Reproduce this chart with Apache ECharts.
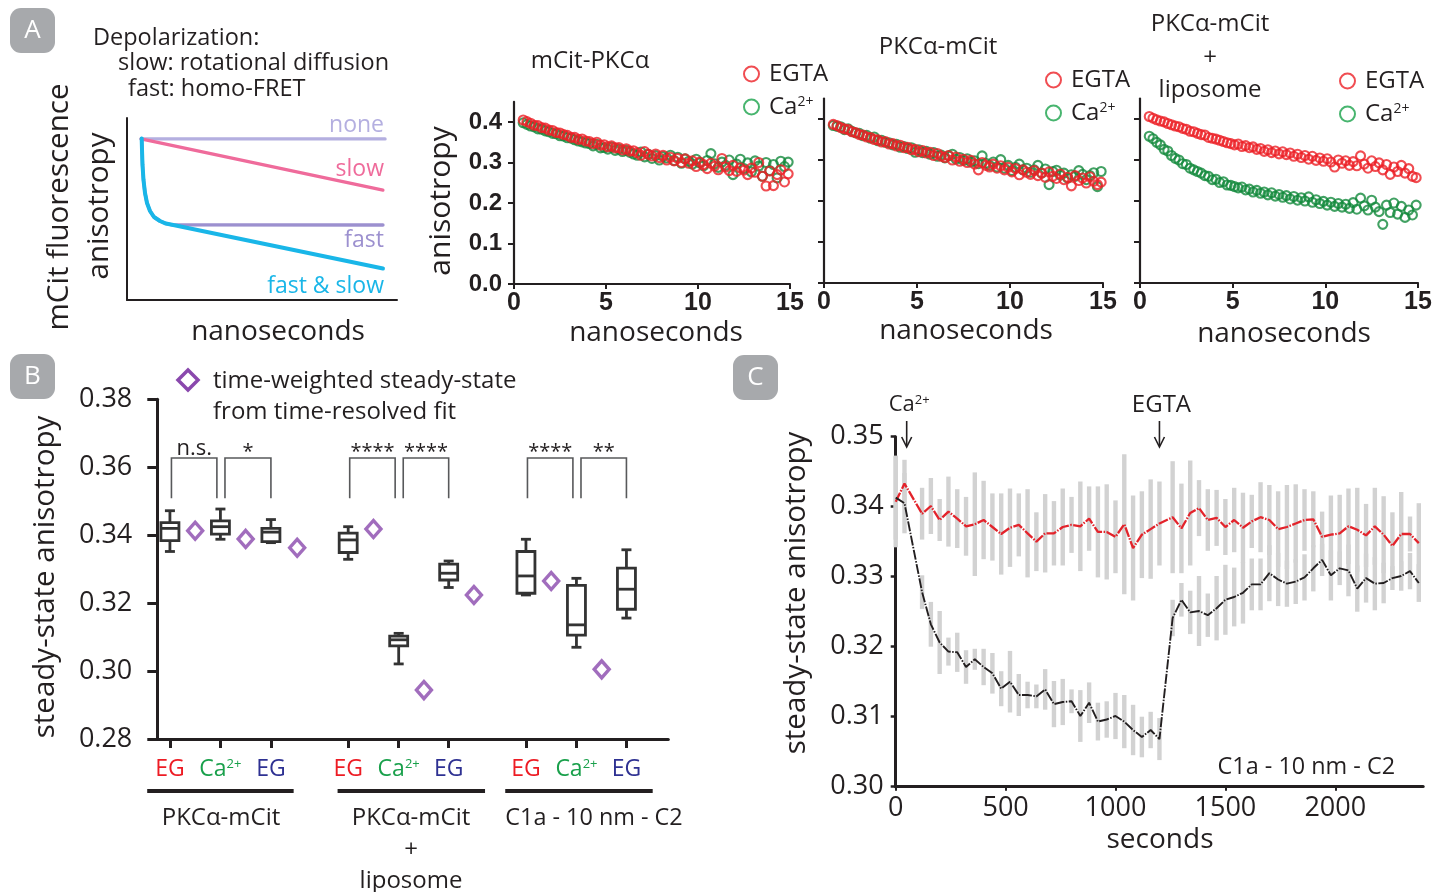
<!DOCTYPE html>
<html><head><meta charset="utf-8">
<script src="https://cdn.jsdelivr.net/npm/echarts@6/dist/echarts.min.js"></script>
<style>html,body{margin:0;padding:0;background:#fff}#c{width:1445px;height:892px}</style>
</head><body><div id="c"></div>
<script>
// ================= DATA =================
// Panel A schematic curves (arbitrary units, x: 0-100, y: 0-100)
const SCHEM_NONE = [[5.2, 88.5], [95.6, 88.5]];
const SCHEM_SLOW = [[5.2, 88.5], [94.8, 60.4]];
const SCHEM_FAST = [[5.44, 88.8], [5.56, 82.4], [5.74, 74.2], [6.11, 65.9], [6.67, 58.8], [7.41, 53.3], [8.52, 48.9], [10.0, 45.6], [12.2, 43.4], [14.4, 42.0], [16.7, 41.3], [94.8, 41.2]];
const SCHEM_FAST_SLOW = [[5.44, 88.8], [5.56, 82.4], [5.74, 74.2], [6.11, 65.9], [6.67, 58.8], [7.41, 53.3], [8.52, 48.9], [10.0, 45.6], [12.2, 43.4], [14.4, 42.0], [16.7, 41.3], [94.8, 17.3]];

// Panel A time-resolved anisotropy (ns)
const NS_TIMES = [0.5,0.7,0.9,1.1,1.3,1.5,1.7,1.9,2.1,2.3, 2.5,2.7,2.9,3.1,3.3,3.5,3.7,3.9,4.1,4.3,
  4.5,4.7,4.9,5.1,5.3,5.5,5.7,5.9,6.1,6.3, 6.5,6.7,6.9,7.1,7.3,7.5,7.7,7.9,8.1,8.3,
  8.5,8.7,8.9,9.1,9.3,9.5,9.7,9.9,10.1,10.3, 10.5,10.7,10.9,11.1,11.3,11.5,11.7,11.9,12.1,12.3,
  12.5,12.7,12.9,13.1,13.3,13.5,13.7,13.9,14.1,14.3, 14.5,14.7,14.9];
const MCIT_PKC_EGTA = [.405,.401,.397,.392,.391,.386,.385,.380,.379,.374,
  .373,.369,.367,.362,.362,.357,.358,.353,.352,.347, .350,.343,.344,.339,.341,.336,.337,.331,.334,.328,
  .329,.324,.318,.327,.320,.316,.321,.312,.318,.306, .313,.304,.310,.300,.309,.298,.304,.290,.301,.295,
  .285,.298,.291,.282,.310,.289,.280,.293,.278,.287, .281,.270,.286,.276,.300,.266,.242,.279,.243,.270,
  .282,.252,.272];
const MCIT_PKC_CA = [.398,.394,.390,.388,.383,.382,.378,.376,.372,.371,
  .366,.365,.361,.360,.356,.353,.351,.348,.347,.341, .345,.336,.337,.333,.338,.330,.333,.327,.330,.325,
  .321,.318,.326,.314,.320,.310,.317,.306,.315,.311, .318,.305,.313,.298,.309,.303,.296,.308,.299,.292,
  .305,.322,.297,.288,.301,.293,.306,.270,.296,.308, .285,.299,.277,.304,.291,.266,.300,.280,.295,.262,
  .303,.290,.301];
const PKC_MCIT_EGTA = [.387,.384,.379,.376,.374,.369,.367,.362,.361,.356,
  .355,.350,.349,.344,.345,.339,.340,.334,.336,.330, .331,.325,.326,.320,.323,.317,.319,.311,.316,.309,
  .306,.311,.300,.307,.297,.302,.294,.299,.290,.276, .294,.287,.283,.290,.280,.286,.276,.282,.271,.279,
  .264,.276,.270,.265,.274,.262,.268,.258,.271,.260, .255,.266,.252,.258,.237,.262,.250,.256,.244,.259,
  .248,.240,.246];
const PKC_MCIT_CA = [.384,.382,.381,.374,.376,.370,.366,.365,.359,.360,
  .353,.356,.347,.348,.343,.342,.337,.338,.331,.333, .328,.330,.319,.325,.318,.321,.314,.318,.309,.312,
  .305,.310,.314,.302,.306,.299,.303,.295,.298,.291, .310,.292,.287,.295,.283,.301,.280,.287,.274,.282,
  .290,.276,.280,.270,.276,.287,.268,.278,.240,.272, .275,.263,.268,.256,.264,.260,.274,.265,.252,.262,
  .269,.235,.272];
const LIPO_EGTA = [.406,.402,.398,.395,.393,.389,.386,.383,.381,.377,
  .375,.370,.369,.365,.362,.361,.355,.353,.351,.348, .345,.342,.340,.337,.339,.333,.335,.330,.332,.326,
  .328,.321,.325,.318,.322,.315,.320,.313,.317,.309, .314,.306,.311,.302,.309,.299,.305,.297,.303,.295,
  .283,.300,.292,.298,.287,.296,.286,.310,.290,.280, .298,.284,.293,.276,.289,.265,.283,.272,.287,.268,
  .279,.260,.257];
const LIPO_CA = [.358,.352,.343,.337,.326,.322,.311,.304,.300,.291,
  .289,.280,.276,.272,.268,.262,.260,.252,.253,.245, .247,.239,.238,.235,.232,.234,.227,.229,.222,.226,
  .219,.222,.215,.220,.212,.216,.209,.213,.205,.211, .202,.208,.200,.210,.197,.203,.194,.199,.190,.197,
  .187,.194,.185,.192,.182,.196,.180,.207,.188,.178, .202,.185,.174,.143,.190,.172,.195,.168,.187,.160,
  .178,.166,.190];
const A_TICKS_X = [0, 5, 10, 15];
const A_TICKS_Y = [0, 0.1, 0.2, 0.3, 0.4];

// Panel B: box stats [min, Q1, median, Q3, max]
const BOX_LABELS = ['EG', 'Ca2+', 'EG', 'EG', 'Ca2+', 'EG', 'EG', 'Ca2+', 'EG'];
const BOX_STATS = [
  [.3352, .3384, .3420, .3437, .3472],
  [.3388, .3403, .3425, .3442, .3477],
  [.3378, .3381, .3409, .3420, .3446],
  [.3329, .3349, .3386, .3406, .3425],
  [.3021, .3074, .3092, .3103, .3111],
  [.3246, .3268, .3288, .3315, .3324],
  [.3224, .3229, .3280, .3352, .3388],
  [.3070, .3106, .3136, .3252, .3273],
  [.3156, .3182, .3241, .3303, .3357]
];
const FIT_VALUES = [.3413, .3389, .3363, .3418, .2944, .3224, .3265, .3005];
const SIG_PAIRS = [[0, 1], [1, 2], [3, 4], [4, 5], [6, 7], [7, 8]];
const SIG_LABELS = ['n.s.', '*', '****', '****', '****', '**'];
const GROUP_LABELS = ['PKC\u03b1-mCit', 'PKC\u03b1-mCit', 'C1a - 10 nm - C2'];
const B_TICKS_Y = [0.28, 0.30, 0.32, 0.34, 0.36, 0.38];

// Panel C: steady-state anisotropy over time (s)
const C_TIMES = [0,40,120,160,200,240,280,320,360,400,440,480,520,560,600,640,680,720,760,800,840,880,920,960,1000,1040,1080,1120,1160,1200,
  1260,1300,1340,1380,1420,1460,1500,1540,1580,1620,1660,1700,1740,1780,1820,1860,1900,1940,1980,2020,2060,2100,2140,2180,2220,2260,2300,2340,2380];
const C_CTRL = [.3407,.3433,.3390,.3401,.3381,.3393,.3383,.3372,.3375,.3381,.3371,.3361,.3370,.3374,.3362,.3350,.3362,.3362,.3371,.3374,.3372,.3383,.3364,.3364,.3357,.3375,.3341,.3360,.3368,.3376,
  .3385,.3369,.3391,.3398,.3381,.3384,.3371,.3381,.3370,.3379,.3385,.3381,.3368,.3371,.3376,.3381,.3382,.3357,.3360,.3362,.3372,.3367,.3359,.3372,.3360,.3344,.3361,.3361,.3348];
const C_CTRL_ERR = [.0065,.0034,.0037,.004,.003,.005,.0042,.0042,.0074,.0056,.0048,.0058,.0056,.0045,.0063,.0042,.0056,.0046,.0055,.004,.0064,.0046,.0065,.0068,.0052,.010,.0075,.0062,.0071,.006,
  .008,.0064,.0075,.004,.0044,.004,.004,.0046,.005,.0038,.005,.005,.0054,.006,.0056,.0044,.004,.0036,.0056,.0055,.0054,.006,.0045,.0055,.0055,.0048,.006,.0025,.0057];
const C_CA = [.3413,.3405,.3278,.3232,.3206,.3193,.3192,.3171,.3182,.3171,.3162,.3140,.3150,.3131,.3131,.3129,.3139,.3118,.3121,.3122,.3101,.3120,.3093,.3096,.3101,.3093,.3081,.3071,.3081,.3068,
  .3241,.3267,.3249,.3251,.3245,.3255,.3267,.3271,.3277,.3289,.3289,.3305,.3296,.3290,.3293,.3299,.3312,.3324,.3302,.3312,.3309,.3283,.3298,.3290,.3291,.3298,.3301,.3308,.3291];
const C_CA_ERR = [.006,.0043,.0024,.0032,.0045,.002,.0028,.0024,.0015,.0026,.0029,.0025,.0044,.003,.0019,.0017,.0029,.0033,.0033,.0017,.0037,.0029,.0027,.0026,.0033,.0038,.0036,.0029,.0026,.003,
  .0026,.0024,.0031,.005,.0031,.0046,.005,.0042,.0044,.0037,.0037,.004,.0038,.0033,.0032,.0033,.0033,.0023,.0036,.0024,.0037,.0033,.0035,.0038,.0029,.0017,.0021,.0026,.0027];
const C_EVENTS = [{t: 50, label: 'Ca2+'}, {t: 1200, label: 'EGTA'}];
const C_TICKS_X = [0, 500, 1000, 1500, 2000];
const C_TICKS_Y = [0.30, 0.31, 0.32, 0.33, 0.34, 0.35];

// ================= LAYOUT / STYLE =================
const K = '#231f20';
const F = "'Open Sans', 'Noto Sans', sans-serif";
const FB = "'Liberation Sans', Arial, sans-serif";
const RED = '#ec2027', GREEN = '#13893c', LEG_GREEN = '#1aa24b', PURPLE = '#8a48ad';
const LBL_COL = {EG1: '#ed1c24', Ca: '#19a04b', EG2: '#2e3192'};
const BOX_X = [0, 1, 2, 3.53, 4.53, 5.52, 7.05, 8.05, 9.04];
const FIT_X = [0.5, 1.5, 2.52, 4.03, 5.03, 6.02, 7.55, 8.55];
const SIG_Y = [0.3509, 0.3627];
const GROUP_SPANS = [[-0.45, 2.45], [3.32, 6.24], [6.64, 9.56]];

const grids = [
  {left: 127, top: 118, width: 270, height: 182},
  {left: 514, top: 101.75, width: 276, height: 182.25},
  {left: 824, top: 98.5, width: 279, height: 184.5},
  {left: 1140, top: 98.5, width: 278, height: 184.5},
  {left: 157.3, top: 399.3, width: 511, height: 339.7},
  {left: 895.7, top: 436.7, width: 527.5, height: 350}
].map(g => Object.assign({outerBoundsMode: 'none', containLabel: false}, g));

const noSplit = {show: false};
function aLine(w) { return {onZero: false, lineStyle: {color: K, width: w}}; }

const xAxes = [
  {gridIndex: 0, type: 'value', min: 0, max: 100, axisLine: aLine(2), axisTick: {show: false}, axisLabel: {show: false}, splitLine: noSplit},
];
const yAxes = [
  {gridIndex: 0, type: 'value', min: 0, max: 100, axisLine: aLine(2), axisTick: {show: false}, axisLabel: {show: false}, splitLine: noSplit},
];
[1, 2, 3].forEach(i => {
  xAxes.push({gridIndex: i, type: 'value', min: 0, max: 15, axisLine: aLine(2.2),
    axisTick: {show: true, customValues: A_TICKS_X, length: 5, lineStyle: {color: K, width: 2}},
    axisLabel: {customValues: A_TICKS_X, fontFamily: FB, fontWeight: 'bold', fontSize: 25, color: K, margin: 7},
    splitLine: noSplit});
  yAxes.push({gridIndex: i, type: 'value', min: 0, max: 0.45, axisLine: aLine(2.2),
    axisTick: {show: true, customValues: A_TICKS_Y, length: 6, lineStyle: {color: K, width: 2}},
    axisLabel: {show: i === 1, customValues: A_TICKS_Y, formatter: v => v.toFixed(1), fontFamily: FB, fontWeight: 'bold', fontSize: 24, color: K, margin: 12},
    splitLine: noSplit});
});
// Panel B
const rich = {
  r: {color: LBL_COL.EG1, fontFamily: F, fontSize: 23},
  g: {color: LBL_COL.Ca, fontFamily: F, fontSize: 23},
  gs: {color: LBL_COL.Ca, fontFamily: F, fontSize: 13, verticalAlign: 'top'},
  b: {color: LBL_COL.EG2, fontFamily: F, fontSize: 23}
};
xAxes.push({gridIndex: 4, type: 'value', min: -0.25, max: 9.869, axisLine: aLine(3),
  axisTick: {show: true, customValues: BOX_X, length: 9, lineStyle: {color: K, width: 3}},
  axisLabel: {customValues: BOX_X, margin: 19, rich,
    formatter: v => {
      const i = BOX_X.findIndex(p => Math.abs(p - v) < 1e-6);
      if (i < 0) return '';
      const lab = BOX_LABELS[i];
      if (lab === 'Ca2+') return '{g|Ca}{gs|2+}';
      return (i % 3 === 0) ? '{r|' + lab + '}' : '{b|' + lab + '}';
    }},
  splitLine: noSplit});
yAxes.push({gridIndex: 4, type: 'value', min: 0.28, max: 0.38, axisLine: aLine(3),
  axisTick: {show: true, customValues: B_TICKS_Y, length: 10, lineStyle: {color: K, width: 3}},
  axisLabel: {customValues: B_TICKS_Y, formatter: v => v.toFixed(2), fontFamily: F, fontSize: 27, color: K, margin: 25},
  splitLine: noSplit});
// Panel C
xAxes.push({gridIndex: 5, type: 'value', min: 0, max: 2400, axisLine: aLine(3),
  axisTick: {show: true, customValues: C_TICKS_X, length: 4, lineStyle: {color: K, width: 2}},
  axisLabel: {customValues: C_TICKS_X, formatter: v => String(Math.round(v)), fontFamily: F, fontSize: 27, color: K, margin: 8},
  splitLine: noSplit});
yAxes.push({gridIndex: 5, type: 'value', min: 0.30, max: 0.35, axisLine: aLine(3),
  axisTick: {show: true, customValues: C_TICKS_Y, length: 5, lineStyle: {color: K, width: 2.5}},
  axisLabel: {customValues: C_TICKS_Y, formatter: v => v.toFixed(2), fontFamily: F, fontSize: 27, color: K, margin: 12},
  splitLine: noSplit});

// ================= SERIES =================
const series = [];
function schem(data, color, w) {
  series.push({type: 'line', xAxisIndex: 0, yAxisIndex: 0, data, showSymbol: false, silent: true,
    lineStyle: {color, width: w, cap: 'round', join: 'round'}});
}
schem(SCHEM_NONE, '#b4afe0', 3.2);
schem(SCHEM_SLOW, '#ef6b9b', 3.2);
schem(SCHEM_FAST, '#9c90cf', 3.4);
schem(SCHEM_FAST_SLOW, '#19b6e8', 4);

function zip(xs, ys) { return ys.map((y, i) => [xs[i], y]); }
function scat(idx, name, vals, color) {
  series.push({type: 'scatter', name, xAxisIndex: idx, yAxisIndex: idx, data: zip(NS_TIMES, vals),
    symbol: 'circle', symbolSize: 9, itemStyle: {color: 'rgba(0,0,0,0)', borderColor: color, borderWidth: 2.1}});
}
scat(1, 'Ca2+', MCIT_PKC_CA, GREEN);  scat(1, 'EGTA', MCIT_PKC_EGTA, RED);
scat(2, 'Ca2+', PKC_MCIT_CA, GREEN);  scat(2, 'EGTA', PKC_MCIT_EGTA, RED);
scat(3, 'EGTA', LIPO_EGTA, RED);      scat(3, 'Ca2+', LIPO_CA, GREEN);

// Panel B boxes
series.push({type: 'custom', xAxisIndex: 4, yAxisIndex: 4, silent: true,
  data: BOX_STATS.map((s, i) => [BOX_X[i]].concat(s)),
  encode: {x: 0, y: [1, 2, 3, 4, 5]},
  renderItem: (params, api) => {
    const x = api.value(0);
    const p = k => api.coord([x, api.value(k)]);
    const mn = p(1), q1 = p(2), md = p(3), q3 = p(4), mx = p(5);
    const cx = mn[0], hw = 9, cw = 5;
    const st = {stroke: '#333', lineWidth: 2.8, fill: null};
    return {type: 'group', children: [
      {type: 'line', shape: {x1: cx, y1: mx[1], x2: cx, y2: q3[1]}, style: st},
      {type: 'line', shape: {x1: cx, y1: q1[1], x2: cx, y2: mn[1]}, style: st},
      {type: 'line', shape: {x1: cx - cw, y1: mx[1], x2: cx + cw, y2: mx[1]}, style: st},
      {type: 'line', shape: {x1: cx - cw, y1: mn[1], x2: cx + cw, y2: mn[1]}, style: st},
      {type: 'rect', shape: {x: cx - hw, y: q3[1], width: 2 * hw, height: q1[1] - q3[1]}, style: {stroke: '#333', lineWidth: 2.8, fill: '#fff'}},
      {type: 'line', shape: {x1: cx - hw, y1: md[1], x2: cx + hw, y2: md[1]}, style: st}
    ]};
  }});
series.push({type: 'scatter', xAxisIndex: 4, yAxisIndex: 4, data: zip(FIT_X, FIT_VALUES), symbol: 'diamond', symbolSize: [15, 17],
  itemStyle: {color: '#fff', borderColor: PURPLE, borderWidth: 3.4}, z: 5});
// significance brackets
series.push({type: 'custom', xAxisIndex: 4, yAxisIndex: 4, silent: true,
  data: SIG_PAIRS.map(([a, b], i) => {
    const x1 = BOX_X[a] + (i % 2 === 1 ? 0.09 : 0.03);
    const x2 = BOX_X[b] - (i % 2 === 0 ? 0.07 : 0);
    return [x1, x2, SIG_Y[0], SIG_Y[1]];
  }),
  encode: {x: [0, 1], y: [2, 3]},
  renderItem: (params, api) => {
    const a = api.coord([api.value(0), api.value(2)]), b = api.coord([api.value(0), api.value(3)]);
    const c = api.coord([api.value(1), api.value(3)]), d = api.coord([api.value(1), api.value(2)]);
    const lab = SIG_LABELS[params.dataIndex];
    const star = lab.indexOf('*') >= 0;
    return {type: 'group', children: [
      {type: 'polyline', shape: {points: [a, b, c, d]}, style: {stroke: '#58595b', lineWidth: 1.6, fill: null}},
      {type: 'text', x: (b[0] + c[0]) / 2, y: b[1] + (star ? 4 : 2), style: {text: lab, fill: K, font: (star ? 20 : 22) + 'px ' + F,
        align: 'center', verticalAlign: 'bottom', textAlign: 'center', textVerticalAlign: 'bottom'}}
    ]};
  }});

// Panel C error bars and lines
function errBars(vals, errs) {
  series.push({type: 'custom', xAxisIndex: 5, yAxisIndex: 5, silent: true, z: 1,
    data: vals.map((v, i) => [C_TIMES[i], v, errs[i]]),
    encode: {x: 0, y: 1},
    renderItem: (params, api) => {
      const t = api.value(0), v = api.value(1), e = api.value(2);
      const top = api.coord([t, v + e]), bot = api.coord([t, v - e]);
      return {type: 'rect', shape: {x: top[0] - 2.2, y: top[1], width: 4.4, height: bot[1] - top[1]}, style: {fill: '#d2d2d2'}};
    }});
}
errBars(C_CTRL, C_CTRL_ERR);
errBars(C_CA, C_CA_ERR);
series.push({type: 'line', xAxisIndex: 5, yAxisIndex: 5, data: zip(C_TIMES, C_CTRL), showSymbol: false, z: 3,
  lineStyle: {color: '#e3232b', width: 2.3, type: [10, 1.5, 1.5, 1.5]}});
series.push({type: 'line', xAxisIndex: 5, yAxisIndex: 5, data: zip(C_TIMES, C_CA), showSymbol: false, z: 3,
  lineStyle: {color: K, width: 1.9, type: [10, 1.5, 1.5, 1.5]}});

// ================= LEGENDS =================
const LEG_POS = [[738, 57], [1040, 63], [1334, 64]];
const legends = LEG_POS.map(([l, t]) => ({
  data: [{name: 'EGTA'}, {name: 'Ca2+', itemStyle: {borderColor: LEG_GREEN}}],
  orient: 'vertical', left: l, top: t, itemWidth: 15, itemHeight: 15, itemGap: 9, selectedMode: false,
  icon: 'circle', itemStyle: {borderWidth: 2, color: 'rgba(0,0,0,0)'},
  formatter: n => n === 'Ca2+' ? '{n|Ca}{s|2+}' : '{n|' + n + '}',
  textStyle: {color: K, rich: {n: {fontFamily: F, fontSize: 24, color: K, padding: [0, 0, 0, 5]}, s: {fontFamily: F, fontSize: 14, color: K, verticalAlign: 'top'}}}
}));

const chart = echarts.init(document.getElementById('c'), null, {renderer: 'canvas', width: 1445, height: 892});
chart.setOption({animation: false, backgroundColor: '#fff', grid: grids, xAxis: xAxes, yAxis: yAxes, series, legend: legends});

// ================= TEXT / DECORATION =================
function T(x, y, text, size, o) {
  o = o || {};
  const al = o.align || 'center';
  const el = {type: 'text', x, y, rotation: o.rot || 0, z: 100, silent: true,
    style: {text, fill: o.color || K, font: (o.weight || 'normal') + ' ' + size + 'px ' + (o.family || F),
      align: al, textAlign: al, verticalAlign: 'middle', textVerticalAlign: 'middle'}};
  if (o.rich) el.style.rich = o.rich;
  return el;
}
const R90 = Math.PI / 2;
const g = [];
// panel letters
[['A', 10, 8], ['B', 10, 354], ['C', 733, 355]].forEach(([s, x, y]) => {
  g.push({type: 'rect', shape: {x, y, width: 45, height: 45, r: 11}, style: {fill: '#a7a9ac'}, z: 90});
  g.push(T(x + 22.5, y + 22.5, s, 26, {color: '#fff'}));
});
// A schematic
g.push(T(93, 38, 'Depolarization:', 23.5, {align: 'left'}));
g.push(T(118, 63, 'slow: rotational diffusion', 23.5, {align: 'left'}));
g.push(T(128, 89, 'fast: homo-FRET', 23.5, {align: 'left'}));
g.push(T(60, 207, 'mCit fluorescence', 29.5, {rot: R90}));
g.push(T(100, 206, 'anisotropy', 29.5, {rot: R90}));
g.push(T(278, 332, 'nanoseconds', 28));
g.push(T(384, 125, 'none', 23, {align: 'right', color: '#b4afe0'}));
g.push(T(384, 169, 'slow', 23, {align: 'right', color: '#ef6b9b'}));
g.push(T(384, 240, 'fast', 23, {align: 'right', color: '#9c90cf'}));
g.push(T(384, 286, 'fast & slow', 23, {align: 'right', color: '#19b6e8'}));
// A charts
g.push(T(590, 61, 'mCit-PKC\u03b1', 24));
g.push(T(938, 47, 'PKC\u03b1-mCit', 24));
g.push(T(1210, 24, 'PKC\u03b1-mCit', 24));
g.push(T(1210, 58, '+', 24));
g.push(T(1210, 90, 'liposome', 24));
g.push(T(441, 201, 'anisotropy', 30, {rot: R90}));
g.push(T(656, 333, 'nanoseconds', 28));
g.push(T(966, 331, 'nanoseconds', 28));
g.push(T(1284, 334, 'nanoseconds', 28));
// B
g.push({type: 'polygon', shape: {points: [[188, 370], [198, 380], [188, 390], [178, 380]]}, style: {fill: '#fff', stroke: PURPLE, lineWidth: 3.5}, z: 100});
g.push(T(213, 381, 'time-weighted steady-state', 24, {align: 'left'}));
g.push(T(213, 412, 'from time-resolved fit', 24, {align: 'left'}));
g.push(T(46, 577, 'steady-state anisotropy', 29.5, {rot: R90}));
GROUP_SPANS.forEach(([a, b]) => {
  const p1 = chart.convertToPixel({gridIndex: 4}, [a, 0.28]);
  const p2 = chart.convertToPixel({gridIndex: 4}, [b, 0.28]);
  g.push({type: 'line', shape: {x1: p1[0], y1: 791, x2: p2[0], y2: 791}, style: {stroke: K, lineWidth: 4}, z: 100});
});
g.push(T(221, 818, GROUP_LABELS[0], 24));
g.push(T(411, 818, GROUP_LABELS[1], 24));
g.push(T(411, 850, '+', 24));
g.push(T(411, 881, 'liposome', 24));
g.push(T(594, 818, GROUP_LABELS[2], 23.4));
// C
g.push(T(797, 593, 'steady-state anisotropy', 29.5, {rot: R90}));
g.push(T(1160, 840, 'seconds', 28));
g.push(T(1395, 767, 'C1a - 10 nm - C2', 23.4, {align: 'right'}));
C_EVENTS.forEach(ev => {
  const p = chart.convertToPixel({gridIndex: 5}, [ev.t, 0.35]);
  const x = p[0];
  g.push({type: 'line', shape: {x1: x, y1: 421, x2: x, y2: 446}, style: {stroke: K, lineWidth: 1.6}, z: 100});
  g.push({type: 'polyline', shape: {points: [[x - 5, 437], [x, 447], [x + 5, 437]]}, style: {stroke: K, lineWidth: 1.6, fill: null}, z: 100});
  if (ev.label === 'Ca2+') {
    g.push(T(x - 18, 405, '{n|Ca}{s|2+}', 22, {align: 'left', rich: {n: {fontFamily: F, fontSize: 22, color: K}, s: {fontFamily: F, fontSize: 13, color: K, verticalAlign: 'top'}}}));
  } else {
    g.push(T(x + 2, 405, ev.label, 24));
  }
});
chart.setOption({graphic: {elements: g}});
</script></body></html>
